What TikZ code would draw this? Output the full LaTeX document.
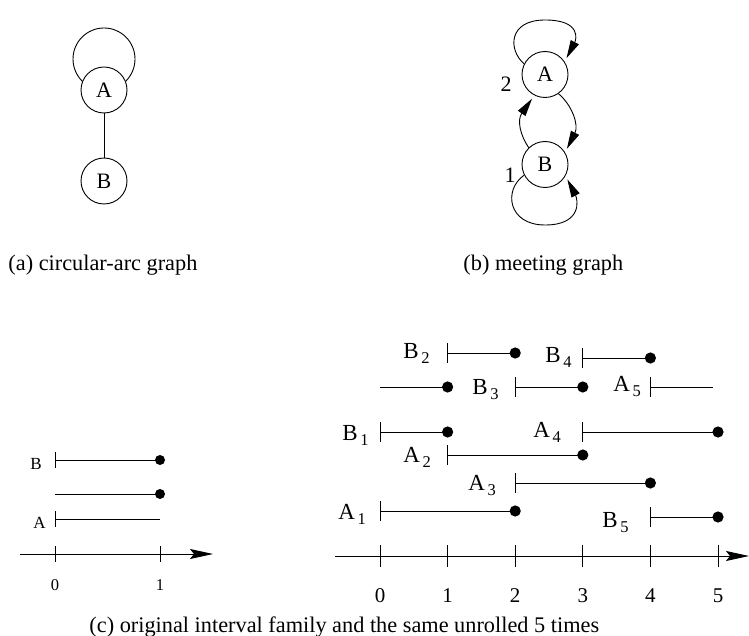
\documentclass[tikz,border=0pt]{standalone}
\usepackage{fontspec}
\setmainfont{Liberation Serif}
\usetikzlibrary{arrows.meta}
\newcommand{\capsz}{\fontsize{22.3}{24}\selectfont}
\newcommand{\lbl}[2]{#1\hspace{2.5pt}\raisebox{-5pt}{\fontsize{16.5}{17}\selectfont #2}}
\newcommand{\rx}[1]{380+67.6*#1}
\newcommand{\rbar}[2]{\draw ({\rx{#2}},#1-10) -- ({\rx{#2}},#1+10);}
\newcommand{\rseg}[3]{\draw ({\rx{#2}},#1) -- ({\rx{#3}},#1);}
\newcommand{\rdot}[2]{\fill ({\rx{#2}},#1) circle[radius=5.6];}
\begin{document}
\begin{tikzpicture}[x=1pt,y=-1pt,line width=0.9pt,
  vtx/.style={circle,draw,minimum size=46pt,inner sep=0pt,fill=white,font=\fontsize{22}{24}\selectfont},
  garrow/.style={-{Triangle[length=18pt,width=9pt]}},
  axarrow/.style={-{Stealth[length=23pt,width=10pt,inset=4pt]}},
  captext/.style={anchor=base west,inner sep=0pt,font=\capsz},
  big/.style={anchor=base west,inner sep=0pt,font=\fontsize{23}{24}\selectfont},
  small/.style={inner sep=0pt,font=\fontsize{17}{18}\selectfont},
  rnum/.style={anchor=base,inner sep=0pt,font=\fontsize{21}{22}\selectfont},
  lnum/.style={anchor=base,inner sep=0pt,font=\fontsize{16.5}{18}\selectfont}]
\useasboundingbox (0,0) rectangle (749,636);

% (a) circular-arc graph
\node[vtx] (a1) at (104,90) {A};
\node[vtx] (b1) at (104,181) {B};
\draw (a1) -- (b1);
\draw (a1.22) .. controls (131.5,75.6) and (135,67.5) .. (135,59)
  .. controls (135,41.9) and (121.1,28) .. (104,28)
  .. controls (86.9,28) and (73,41.9) .. (73,59)
  .. controls (73,67.5) and (76.5,75.6) .. (a1.158);
\node[captext] (capa) at (8,270) {(a) circular-arc graph};

% (b) meeting graph
\node[vtx] (a2) at (545,74.5) {A};
\node[vtx] (b2) at (545,164.5) {B};
\draw[garrow,shorten >=4pt] (a2.153) .. controls (508,50) and (508,20) .. (545,20)
  .. controls (582,20) and (576,40) .. (a2.33);
\draw[garrow,shorten >=4pt] (a2.-55) .. controls (572,105) and (579,125) .. (b2.31);
\draw[garrow,shorten >=4pt] (b2.134) .. controls (520,135) and (517,120) .. (a2.243);
\draw[garrow,shorten >=4pt] (b2.207) .. controls (503,190) and (508,225) .. (545,225)
  .. controls (582,225) and (578,200) .. (b2.-29);
\node[font=\fontsize{22}{24}\selectfont,inner sep=0pt] (l2) at (506,84) {2};
\node[font=\fontsize{22}{24}\selectfont,inner sep=0pt] (l1) at (510,175) {1};
\node[captext] (capb) at (463,270) {(b) meeting graph};

% (c) left: original interval family
\coordinate (lax0) at (20,554);
\coordinate (lax1) at (213,554);
\draw[axarrow] (lax0) -- (lax1);
\draw (55,546) -- (55,562);
\draw (160,546) -- (160,562);
\node[lnum] (l0n) at (55,590) {0};
\node[lnum] (l1n) at (160,590) {1};
\draw (55,452) -- (55,468);
\draw (55,460) -- (160,460);
\fill (160,460) circle[radius=5];
\draw (55,494) -- (160,494);
\fill (160,494) circle[radius=5];
\draw (55,511) -- (55,527);
\draw (55,519) -- (160,519);
\node[small,anchor=base west] (lB) at (30,469) {B};
\node[small,anchor=base west] (lA) at (33,528) {A};

% (c) right: unrolled 5 times
\coordinate (rax0) at (335,556);
\coordinate (rax1) at (749,556);
\draw[axarrow] (rax0) -- (rax1);
\foreach \k in {0,...,5}{
  \draw ({\rx{\k}},545) -- ({\rx{\k}},567);
  \node[rnum] (rn\k) at ({\rx{\k}},602) {\k};
}
% B2
\rbar{353}{1}\rseg{353}{1}{2}\rdot{353}{2}
% B4
\rbar{358}{3}\rseg{358}{3}{4}\rdot{358}{4}
% row 387
\rseg{387}{0}{1}\rdot{387}{1}
\rbar{387}{2}\rseg{387}{2}{3}\rdot{387}{3}
\rbar{387}{4}\draw ({\rx{4}},387) -- (713,387);
% B1, A4
\rbar{432}{0}\rseg{432}{0}{1}\rdot{432}{1}
\rbar{432}{3}\rseg{432}{3}{5}\rdot{432}{5}
% A2
\rbar{455}{1}\rseg{455}{1}{3}\rdot{455}{3}
% A3
\rbar{483}{2}\rseg{483}{2}{4}\rdot{483}{4}
% A1
\rbar{511}{0}\rseg{511}{0}{2}\rdot{511}{2}
% B5
\rbar{517}{4}\rseg{517}{4}{5}\rdot{517}{5}

\node[big] (tB2) at (403,358) {\lbl{B}{2}};
\node[big] (tB4) at (545,362) {\lbl{B}{4}};
\node[big] (tB3) at (472,394) {\lbl{B}{3}};
\node[big] (tA5) at (613,391) {\lbl{A}{5}};
\node[big] (tB1) at (342,440) {\lbl{B}{1}};
\node[big] (tA4) at (533,437) {\lbl{A}{4}};
\node[big] (tA2) at (403,462) {\lbl{A}{2}};
\node[big] (tA3) at (468,490) {\lbl{A}{3}};
\node[big] (tA1) at (338,519) {\lbl{A}{1}};
\node[big] (tB5) at (602,527) {\lbl{B}{5}};

\node[captext] (capc) at (89,632) {(c) original interval family and the same unrolled 5 times};
\end{tikzpicture}
\end{document}
